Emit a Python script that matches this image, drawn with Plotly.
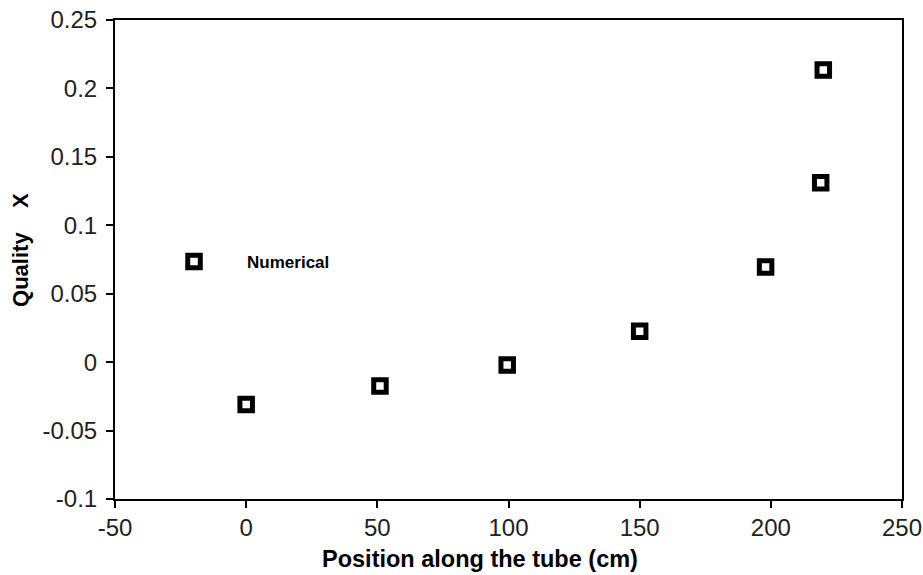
import plotly.graph_objects as go

position_cm = [0, 51, 99.5, 150, 198, 219, 220]
quality_x = [-0.031, -0.0175, -0.002, 0.0225, 0.0695, 0.131, 0.2135]

x_ticks = [-50, 0, 50, 100, 150, 200, 250]
x_tick_labels = ["-50", "0", "50", "100", "150", "200", "250"]
y_ticks = [-0.1, -0.05, 0, 0.05, 0.1, 0.15, 0.2, 0.25]
y_tick_labels = ["-0.1", "-0.05", "0", "0.05", "0.1", "0.15", "0.2", "0.25"]

fig = go.Figure()
fig.add_trace(go.Scatter(
    x=position_cm, y=quality_x, mode="markers",
    name="\u00a0" * 7 + "Numerical",
    marker=dict(symbol="square-open", size=12.5, color="black",
                line=dict(width=5, color="black")),
))

axis_common = dict(
    ticks="outside", ticklen=7, tickwidth=1.5, tickcolor="black",
    showline=True, linecolor="black", linewidth=2, mirror=True,
    showgrid=False, zeroline=False, automargin=False,
    ticklabeloverflow="allow",
    tickfont=dict(size=24, color="#222"),
)

fig.update_layout(
    width=923, height=575,
    margin=dict(l=115, r=21, t=20, b=76),
    paper_bgcolor="white", plot_bgcolor="white",
    font=dict(family="Liberation Sans, Arial, sans-serif", color="black"),
    showlegend=True,
    legend=dict(x=0.075, y=0.495, xanchor="left", yanchor="middle",
                bgcolor="rgba(0,0,0,0)",
                font=dict(size=17, family="Liberation Sans, Arial", weight="bold"),
                itemsizing="trace"),
    xaxis=dict(range=[-50, 250], tickvals=x_ticks, ticktext=x_tick_labels,
               ticklabelstandoff=-1, **axis_common),
    yaxis=dict(range=[-0.1, 0.25], tickvals=y_ticks, ticktext=y_tick_labels,
               ticklabelstandoff=4, **axis_common),
    annotations=[
        dict(text="<b>Position along the tube (cm)</b>", xref="paper", yref="paper",
             x=0.4638, y=-0.125, xanchor="center", yanchor="middle", showarrow=False,
             font=dict(size=23.5)),
        dict(text="<b>Quality\u00a0\u00a0\u00a0\u00a0X</b>", xref="paper", yref="paper",
             x=-0.1194, y=0.52, xanchor="center", yanchor="middle", showarrow=False,
             textangle=-90, font=dict(size=22)),
    ],
)

fig.write_html("out.html", config={"displayModeBar": False},
               post_script="document.body.style.margin='0';")
